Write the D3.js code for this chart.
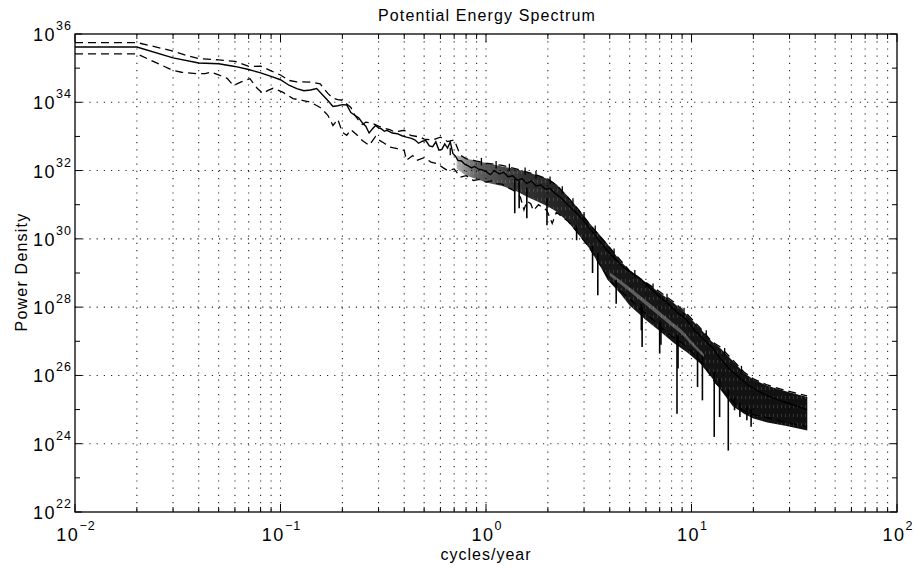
<!DOCTYPE html>
<html>
<head>
<meta charset="utf-8">
<script src="https://cdn.jsdelivr.net/npm/d3@7"></script>
<style>
  body { margin: 0; background: #fff; }
  svg { display: block; font-family: "Liberation Sans", Arial, Helvetica, sans-serif; }
</style>
</head>
<body>
<div id="chart"></div>
<script>
// Spectrum values, power given as log10 (exponent)
const solidF = [0.01,0.02,0.03,0.04,0.05,0.06,0.07,0.08,0.09,0.10,
  0.11,0.12,0.13,0.14,0.15,0.16,0.17,0.18,0.19,0.20,
  0.21,0.22,0.23,0.24,0.25,0.26,0.27,0.28,0.29,0.30,
  0.31,0.32,0.33,0.35,0.37,0.39,0.41,0.43,0.45,0.47,
  0.49,0.51,0.53,0.55,0.57,0.59,0.61,0.63,0.65,0.67,
  0.69,0.71,0.73,0.76,0.79,0.82,0.85,0.88,0.92,0.96,
  1.00,1.05,1.10,1.16,1.22,1.28,1.35,1.42,1.50,1.58,
  1.66,1.75,1.85,1.95,2.05,2.15,2.30,2.45,2.60,2.80,
  3.0,3.2,3.5,3.9,4.3,4.7,5.2,5.7,6.3,7.0,
  7.7,8.5,9.4,10.4,11.5,12.7,14.0,15.5,17.0,19.0,
  21.0,23.5,26.0,29.0,32.5,36.5];
const solidP = [35.62,35.62,35.30,35.15,35.13,35.05,34.96,34.86,34.76,34.66,
  34.50,34.40,34.34,34.36,34.40,34.22,34.05,33.88,33.90,33.93,
  33.92,33.70,33.62,33.55,33.40,33.30,33.10,33.22,33.32,33.25,
  33.22,33.15,33.18,33.10,33.08,33.02,32.98,32.95,32.90,32.80,
  32.86,32.88,32.72,32.70,32.84,32.60,32.62,32.78,32.66,32.84,
  32.50,32.42,32.30,32.28,32.18,32.14,32.08,32.12,32.04,32.02,
  31.97,31.88,32.00,31.90,31.95,31.82,31.85,31.72,31.76,31.62,
  31.70,31.55,31.58,31.45,31.48,31.35,31.22,31.05,30.90,30.72,
  30.52,30.30,30.00,29.65,29.38,29.15,28.98,28.80,28.55,28.30,
  28.10,27.85,27.65,27.30,27.05,26.80,26.45,26.15,25.95,25.70,
  25.55,25.40,25.30,25.20,25.10,25.00];

const upperF = [0.01,0.02,0.03,0.035,0.04,0.05,0.06,0.07,0.08,0.09,
  0.10,0.11,0.12,0.14,0.156,0.17,0.18,0.19,0.20,0.21,
  0.22,0.23,0.24,0.25,0.26,0.28,0.30,0.32,0.34,0.36,
  0.40,0.43,0.48,0.50,0.55,0.60,0.65,0.70,0.75,0.80,
  0.90,1.0,1.2,1.4,1.6,1.8,2.0,2.2,2.5,2.8,
  3.2,3.9,5.0,6.0,7.0,8.2,9.5,11.0,12.5,13.7,
  15.9,18.0,20.0,23.4,29.0,36.5];
const upperP = [35.75,35.75,35.50,35.37,35.28,35.24,35.20,35.05,35.06,34.92,
  34.80,34.64,34.60,34.59,34.54,34.26,34.12,34.08,34.06,33.95,
  33.85,33.62,33.47,33.35,33.42,33.38,33.30,33.24,33.20,33.13,
  33.18,33.03,32.98,32.92,32.90,32.98,32.85,32.90,32.45,32.35,
  32.28,32.22,32.15,32.05,31.95,31.85,31.75,31.58,31.22,30.88,
  30.42,29.82,29.06,28.72,28.45,28.15,27.80,27.40,27.00,26.85,
  26.45,26.10,25.90,25.72,25.55,25.40];

const lowerF = [0.01,0.02,0.03,0.033,0.039,0.043,0.046,0.05,0.055,0.059,
  0.064,0.071,0.077,0.082,0.087,0.092,0.103,0.115,0.129,0.14,
  0.156,0.17,0.18,0.19,0.20,0.21,0.22,0.235,0.25,0.27,
  0.29,0.30,0.32,0.34,0.37,0.40,0.41,0.44,0.46,0.50,
  0.54,0.58,0.62,0.65,0.70,0.75,0.80,0.87,0.93,1.0,
  1.07,1.13,1.20,1.26,1.36,1.47,1.53,1.58,1.65,1.70,
  1.80,1.98,2.10,2.20,2.50,2.80,3.2,3.6,4.0,4.5,
  5.0,5.6,6.3,7.0,8.0,9.0,10.2,11.5,13.0,15.0,
  17.5,20.0,24.0,29.0,36.5];
const lowerP = [35.42,35.42,34.93,34.88,34.84,34.84,34.88,34.80,34.70,34.49,
  34.59,34.69,34.41,34.26,34.35,34.41,34.29,34.11,34.05,34.00,
  33.85,33.62,33.32,33.50,33.12,33.03,33.20,33.05,32.88,32.74,
  33.00,32.90,32.80,32.69,32.64,32.59,32.30,32.44,32.30,32.38,
  32.25,32.20,32.08,32.00,32.05,31.81,31.85,31.71,31.74,31.66,
  31.70,31.62,31.60,31.52,31.42,31.22,30.85,31.10,31.03,30.83,
  31.00,30.83,30.45,30.78,30.52,30.18,29.72,29.22,28.80,28.48,
  28.25,27.95,27.70,27.45,27.15,26.95,26.65,26.30,25.80,25.40,
  25.00,24.85,24.75,24.62,24.50];

// dense high-frequency part: envelope of the overlapping curves
const envF = [0.72,0.8,0.9,1.0,1.2,1.4,1.6,1.8,2.0,2.2,
  2.5,2.8,3.2,3.6,3.9,4.5,5.0,6.0,7.0,8.2,9.5,
  11.0,12.5,13.7,15.9,18.0,20.0,23.4,29.0,36.6];
const envTop = [32.45,32.35,32.28,32.22,32.12,32.04,31.95,31.85,31.75,31.60,
  31.25,30.90,30.45,30.10,29.85,29.35,29.08,28.72,28.42,28.12,27.78,
  27.38,27.00,26.82,26.42,26.08,25.88,25.70,25.53,25.37];
const envBot = [32.05,31.85,31.75,31.65,31.55,31.40,31.22,31.08,30.95,30.80,
  30.50,30.15,29.70,29.20,28.80,28.40,28.05,27.62,27.30,26.95,26.68,
  26.36,25.95,25.62,25.10,24.88,24.74,24.62,24.52,24.39];

// thin light streak between the two branches
const gapF = [4.0,5.0,6.6,7.9,9.0,10.2,11.5];
const gapTop = [29.02,28.58,28.00,27.60,27.32,26.95,26.62];
const gapBot = [28.92,28.46,27.86,27.47,27.20,26.84,26.54];

// deep downward dips
const spikeF = [1.38,1.45,1.58,1.98,2.76,3.3,3.5,4.3,5.7,5.75,7.0,7.1,8.5,8.6,10.7,11.3,12.9,13.7,15.1,16.2,17.2,18.6,19.5];
const spikeTop = [31.75,31.7,31.5,31.2,30.4,29.8,29.6,28.8,28.1,28.0,27.6,27.55,27.2,27.15,26.7,26.55,26.1,25.9,25.6,25.35,25.2,25.1,25.0];
const spikeBot = [30.75,30.9,30.6,30.4,29.96,29.0,28.35,28.1,27.32,26.83,26.64,26.9,24.88,26.2,25.66,25.27,24.2,24.78,23.8,24.98,24.78,24.69,24.5];

// short upward peaks on the top edge
const peakF = [0.67,0.95,1.12,1.3,1.55,1.75,2.05,2.35,2.65,3.0,3.4,4.2,5.3,6.5,7.6,9.2,11.8,14.5,17.5];
const peakTop = [32.67,32.37,32.28,32.20,32.09,31.99,31.83,31.54,31.19,30.79,30.39,29.72,29.09,28.69,28.39,27.98,27.32,26.80,26.28];
const peakBot = [32.45,32.15,32.06,31.98,31.87,31.77,31.61,31.32,30.97,30.57,30.17,29.50,28.87,28.47,28.17,27.76,27.10,26.58,26.06];

const xLabelExp = [-2, -1, 0, 1, 2];
const yLabelExp = [22, 24, 26, 28, 30, 32, 34, 36];

const width = 914, height = 571;
const plotLeft = 75, plotRight = 897, plotTop = 34, plotBottom = 512;

const svg = d3.select("#chart").append("svg")
    .attr("width", width)
    .attr("height", height);

const x = d3.scaleLog().domain([1e-2, 1e2]).range([plotLeft, plotRight]);
const y = d3.scaleLog().domain([1e22, 1e36]).range([plotBottom, plotTop]);
const P = e => Math.pow(10, e);

const defs = svg.append("defs");
defs.append("clipPath").attr("id", "plotClip")
    .append("rect")
    .attr("x", plotLeft).attr("y", plotTop)
    .attr("width", plotRight - plotLeft).attr("height", plotBottom - plotTop);

// band darkness grows with frequency
const fadeStops = [[0.72, 0.3], [0.9, 0.62], [1.5, 0.8], [3.0, 0.9], [10, 0.92], [36.6, 0.94]];
const gx1 = x(envF[0]), gx2 = x(envF[envF.length - 1]);
defs.append("linearGradient").attr("id", "bandFade")
    .attr("gradientUnits", "userSpaceOnUse")
    .attr("x1", gx1).attr("x2", gx2).attr("y1", 0).attr("y2", 0)
    .selectAll("stop")
    .data(fadeStops)
    .join("stop")
    .attr("offset", d => (x(d[0]) - gx1) / (gx2 - gx1))
    .attr("stop-color", "#000")
    .attr("stop-opacity", d => d[1]);

// faint vertical hatching, like the many overlapping spectral lines
const hatch = defs.append("pattern").attr("id", "hatch")
    .attr("patternUnits", "userSpaceOnUse")
    .attr("width", 4).attr("height", 9);
hatch.append("rect").attr("x", 1).attr("y", 0).attr("width", 0.8).attr("height", 3)
    .attr("fill", "#fff").attr("opacity", 0.18);

// grid
const xTickVals = x.ticks();
const xGridVals = xTickVals.filter(v => v > 0.0101 && v < 99);
svg.append("g").selectAll("line")
    .data(xGridVals)
    .join("line")
    .attr("x1", d => x(d)).attr("x2", d => x(d))
    .attr("y1", plotTop).attr("y2", plotBottom)
    .attr("stroke", "#000")
    .attr("stroke-width", 1.1)
    .attr("stroke-dasharray", "1.2,6")
    .attr("opacity", 0.85);

const yGridVals = [24, 26, 28, 30, 32, 34].map(P);
svg.append("g").selectAll("line")
    .data(yGridVals)
    .join("line")
    .attr("x1", plotLeft).attr("x2", plotRight)
    .attr("y1", d => y(d)).attr("y2", d => y(d))
    .attr("stroke", "#000")
    .attr("stroke-width", 1.1)
    .attr("stroke-dasharray", "1.2,6")
    .attr("opacity", 0.85);

const plot = svg.append("g").attr("clip-path", "url(#plotClip)");

const zip = (fs, ps) => fs.map((f, i) => [f, ps[i]]);
const line = d3.line().x(d => x(d[0])).y(d => y(P(d[1])));

// dense band
const envData = envF.map((f, i) => ({ f, hi: envTop[i], lo: envBot[i] }));
const area = d3.area()
    .x(d => x(d.f))
    .y0(d => y(P(d.lo)))
    .y1(d => y(P(d.hi)));
plot.append("path")
    .datum(envData)
    .attr("d", area)
    .attr("fill", "url(#bandFade)");
plot.append("path")
    .datum(envData)
    .attr("d", area)
    .attr("fill", "url(#hatch)");

const gapData = gapF.map((f, i) => ({ f, hi: gapTop[i], lo: gapBot[i] }));
plot.append("path")
    .datum(gapData)
    .attr("d", area)
    .attr("fill", "#fff")
    .attr("opacity", 0.3);

// curves
plot.append("path")
    .datum(zip(upperF, upperP))
    .attr("d", line)
    .attr("fill", "none")
    .attr("stroke", "#000")
    .attr("stroke-width", 1.3)
    .attr("stroke-dasharray", "8,5");

plot.append("path")
    .datum(zip(lowerF, lowerP))
    .attr("d", line)
    .attr("fill", "none")
    .attr("stroke", "#000")
    .attr("stroke-width", 1.3)
    .attr("stroke-dasharray", "8,5");

plot.append("path")
    .datum(zip(solidF, solidP))
    .attr("d", line)
    .attr("fill", "none")
    .attr("stroke", "#000")
    .attr("stroke-width", 1.4);

plot.append("g").selectAll("line")
    .data(spikeF.map((f, i) => ({ f, hi: spikeTop[i], lo: spikeBot[i] })))
    .join("line")
    .attr("x1", d => x(d.f)).attr("x2", d => x(d.f))
    .attr("y1", d => y(P(d.hi))).attr("y2", d => y(P(d.lo)))
    .attr("stroke", "#000")
    .attr("stroke-width", 1.6);

plot.append("g").selectAll("line")
    .data(peakF.map((f, i) => ({ f, hi: peakTop[i], lo: peakBot[i] })))
    .join("line")
    .attr("x1", d => x(d.f)).attr("x2", d => x(d.f))
    .attr("y1", d => y(P(d.hi))).attr("y2", d => y(P(d.lo)))
    .attr("stroke", "#000")
    .attr("stroke-width", 1.3);

// axes box and ticks
svg.append("rect")
    .attr("x", plotLeft).attr("y", plotTop)
    .attr("width", plotRight - plotLeft).attr("height", plotBottom - plotTop)
    .attr("fill", "none")
    .attr("stroke", "#000")
    .attr("stroke-width", 1.3);

const ticks = svg.append("g").attr("stroke", "#000").attr("stroke-width", 1);
const isDecade = v => Math.abs(Math.log10(v) - Math.round(Math.log10(v))) < 1e-6;
xTickVals.forEach(v => {
    const len = isDecade(v) ? 8 : 5;
    ticks.append("line").attr("x1", x(v)).attr("x2", x(v)).attr("y1", plotBottom).attr("y2", plotBottom - len);
    ticks.append("line").attr("x1", x(v)).attr("x2", x(v)).attr("y1", plotTop).attr("y2", plotTop + len);
});
d3.range(22, 37).forEach(e => {
    const len = e % 2 === 0 ? 7 : 5;
    const yy = y(P(e));
    ticks.append("line").attr("x1", plotLeft).attr("x2", plotLeft + len).attr("y1", yy).attr("y2", yy);
    ticks.append("line").attr("x1", plotRight).attr("x2", plotRight - len).attr("y1", yy).attr("y2", yy);
});

// tick labels: "10" with a raised exponent
const xl = svg.append("g").selectAll("text")
    .data(xLabelExp)
    .join("text")
    .attr("x", d => x(P(d)) + 1)
    .attr("y", 541)
    .attr("text-anchor", "middle")
    .attr("font-size", 18)
    .attr("letter-spacing", 1.5)
    .attr("fill", "#000");
xl.append("tspan").text("10");
xl.append("tspan")
    .attr("dy", -11)
    .attr("font-size", 12.5)
    .attr("letter-spacing", 1)
    .text(d => d < 0 ? "\u2212" + (-d) : d);

const yl = svg.append("g").selectAll("text")
    .data(yLabelExp)
    .join("text")
    .attr("x", 72)
    .attr("y", d => y(P(d)) + 7)
    .attr("text-anchor", "end")
    .attr("font-size", 18)
    .attr("letter-spacing", 1.5)
    .attr("fill", "#000");
yl.append("tspan").text("10");
yl.append("tspan")
    .attr("dy", -11)
    .attr("font-size", 12.5)
    .attr("letter-spacing", 1)
    .text(d => d);

// titles
svg.append("text")
    .attr("x", 487).attr("y", 21)
    .attr("text-anchor", "middle")
    .attr("font-size", 16)
    .attr("letter-spacing", 1.1)
    .text("Potential Energy Spectrum");

svg.append("text")
    .attr("x", 486).attr("y", 560)
    .attr("text-anchor", "middle")
    .attr("font-size", 16)
    .attr("letter-spacing", 1)
    .text("cycles/year");

svg.append("text")
    .attr("transform", "translate(27,272) rotate(-90)")
    .attr("text-anchor", "middle")
    .attr("font-size", 16)
    .attr("letter-spacing", 1.2)
    .text("Power Density");
</script>
</body>
</html>
